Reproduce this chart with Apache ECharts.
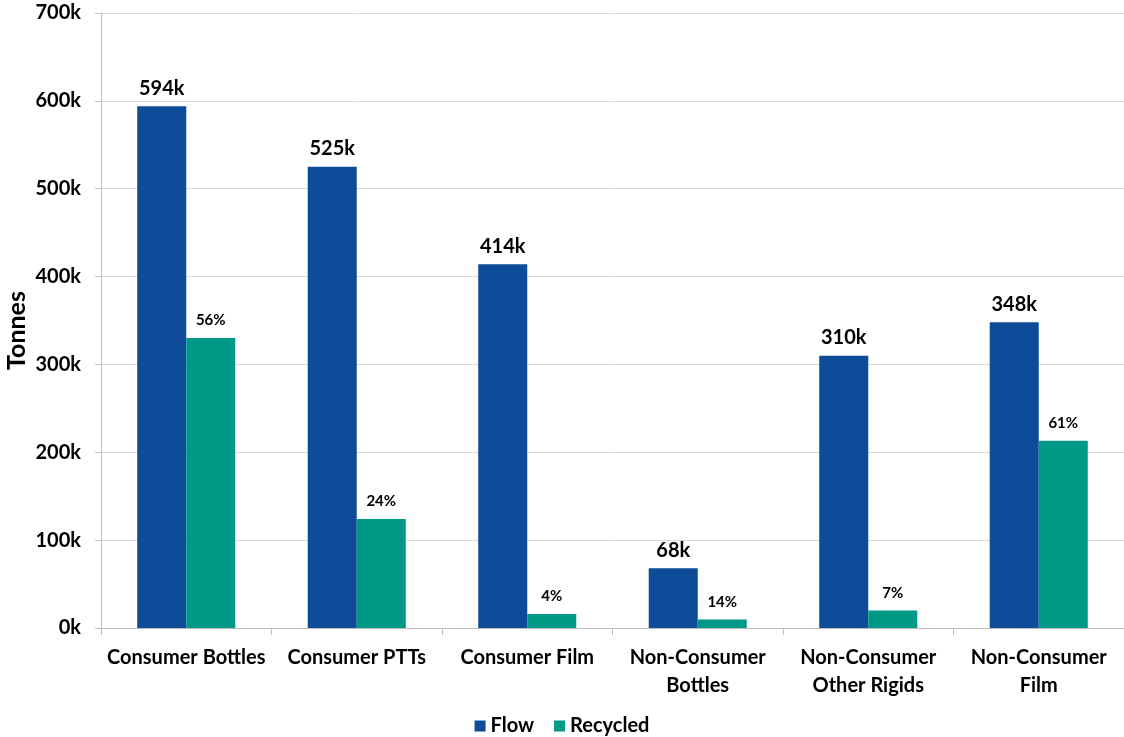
<!DOCTYPE html>
<html>
<head>
<meta charset="utf-8">
<script src="https://cdn.jsdelivr.net/npm/echarts@6/dist/echarts.min.js"></script>
<style>html,body{margin:0;padding:0;background:#fff}#c{width:1124px;height:737px}</style>
</head>
<body>
<div id="c"></div>
<script>
const categories = ['Consumer Bottles', 'Consumer PTTs', 'Consumer Film', 'Non-Consumer\nBottles', 'Non-Consumer\nOther Rigids', 'Non-Consumer\nFilm'];
const flow = [594, 525, 414, 68, 310, 348];
const recycled = [330, 124, 16, 9.6, 20, 213];
const recycledPct = ['56%', '24%', '4%', '14%', '7%', '61%'];
const yTicks = [0, 100, 200, 300, 400, 500, 600, 700];

const FONT = 'Lato';
const chart = echarts.init(document.getElementById('c'));
chart.setOption({
  animation: false,
  textStyle: { fontFamily: FONT },
  grid: { left: 101, right: 0, top: 13, bottom: 109, containLabel: false, outerBoundsMode: 'none' },
  legend: {
    top: 711, left: 'center',
    itemWidth: 11, itemHeight: 11, itemGap: 20,
    icon: 'rect',
    textStyle: { fontFamily: FONT, fontWeight: 'bold', fontSize: 20, color: '#000' },
    data: ['Flow', 'Recycled']
  },
  xAxis: {
    type: 'category',
    data: categories,
    axisLine: { lineStyle: { color: '#bfbfbf' } },
    axisTick: { show: true, length: 7, lineStyle: { color: '#bfbfbf' } },
    axisLabel: { fontFamily: FONT, fontWeight: 'bold', fontSize: 20, color: '#000', margin: 16, lineHeight: 28, interval: 0 }
  },
  yAxis: {
    type: 'value', min: 0, max: 700, interval: 100,
    name: 'Tonnes', nameLocation: 'middle', nameGap: 72, nameRotate: 90, nameMoveOverlap: false,
    nameTextStyle: { fontFamily: FONT, fontWeight: 'bold', fontSize: 25, color: '#000', padding: [0, 20, 0, 0] },
    axisLine: { show: true, lineStyle: { color: '#bfbfbf' } },
    axisTick: { show: true, length: 6, lineStyle: { color: '#bfbfbf' } },
    splitLine: { lineStyle: { color: '#d9d9d9' } },
    axisLabel: { fontFamily: FONT, fontWeight: 'bold', fontSize: 20, color: '#000', margin: 20,
      formatter: v => yTicks.includes(v) ? v + 'k' : '' }
  },
  series: [
    { name: 'Flow', type: 'bar', data: flow, barGap: '0%', barCategoryGap: '42.5%',
      itemStyle: { color: '#0E4C9A' },
      label: { show: true, position: 'top', distance: 8, fontFamily: FONT, fontWeight: 'bold', fontSize: 20, color: '#000', formatter: p => p.value + 'k' } },
    { name: 'Recycled', type: 'bar', data: recycled, barGap: '0%', barCategoryGap: '42.5%',
      itemStyle: { color: '#009887' },
      label: { show: true, position: 'top', distance: 10, fontFamily: FONT, fontWeight: 'bold', fontSize: 15, color: '#000', formatter: p => recycledPct[p.dataIndex] } }
  ]
});
</script>
</body>
</html>
